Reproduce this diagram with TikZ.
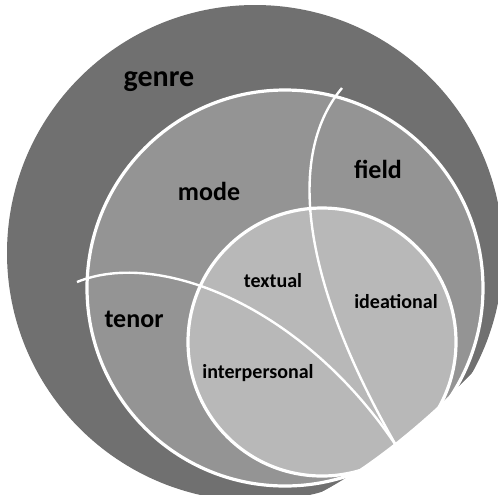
\documentclass[tikz,border=0pt]{standalone}
\usepackage{fontspec}
\setmainfont{Carlito}
\usepackage{xcolor}

\definecolor{genregray}{gray}{0.44}
\definecolor{registergray}{gray}{0.58}
\definecolor{metagray}{gray}{0.72}

\begin{document}
\begin{tikzpicture}[x=0.5pt, y=-0.5pt,
        ring/.style={draw=white, line width=1.6pt},
        divider/.style={draw=white, line width=1.2pt},
        biglabel/.style={font=\fontsize{13}{15}\selectfont\bfseries},
        smalllabel/.style={font=\fontsize{10}{12}\selectfont\bfseries}]

        \useasboundingbox (0,0) rectangle (498,494);
        \clip (0,0) rectangle (498,494);

        \fill[genregray] (255,253) circle[radius=124pt];
        \filldraw[fill=registergray, ring] (285,288) circle[radius=99pt];
        \filldraw[fill=metagray, ring] (322,342) circle[radius=67pt];

        \coordinate (tenorend) at (77,282);
        \coordinate (fieldend) at (342,88);
        \coordinate (meet) at (397,447);

        \draw[divider] (tenorend) .. controls (160,248) and (305,308) .. (meet);
        \draw[divider] (fieldend) .. controls (290,150) and (295,270) .. (meet);

        \fill[white] (318,494) .. controls (380,462) and (450,400) .. (498,345) -- (498,494) -- cycle;

        \node[font=\fontsize{15}{17}\selectfont\bfseries] (genre) at (159,82) {genre};
        \node[biglabel] (mode) at (209,191) {mode};
        \node[biglabel] (field) at (378,169) {field};
        \node[biglabel] (tenor) at (134,319) {tenor};
        \node[smalllabel] (textual) at (273,281) {textual};
        \node[smalllabel] (ideational) at (396,302) {ideational};
        \node[smalllabel] (interpersonal) at (258,373) {interpersonal};

\end{tikzpicture}
\end{document}
